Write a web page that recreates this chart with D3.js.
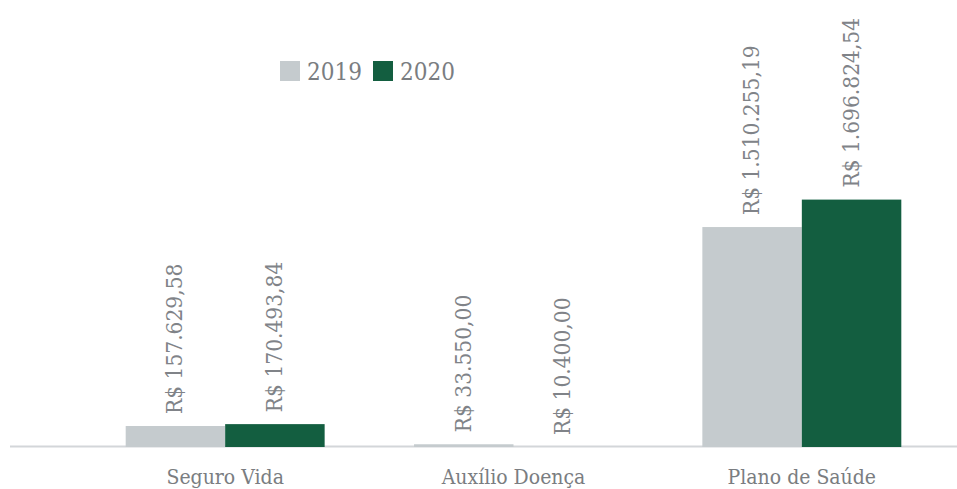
<!DOCTYPE html>
<html><head><meta charset="utf-8">
<script src="https://cdn.jsdelivr.net/npm/d3@7"></script>
<style>
body{margin:0;background:#fff;}
text{font-family:"DejaVu Serif Condensed","DejaVu Serif",serif;font-stretch:condensed;}
</style></head>
<body><svg id="c" width="957" height="489"></svg>
<script>
const categories = ["Seguro Vida","Auxílio Doença","Plano de Saúde"];
const seriesNames = ["2019","2020"];
const values2019 = [157629.58, 33550.00, 1510255.19];
const values2020 = [170493.84, 10400.00, 1696824.54];
const labels2019 = ["R$ 157.629,58","R$ 33.550,00","R$ 1.510.255,19"];
const labels2020 = ["R$ 170.493,84","R$ 10.400,00","R$ 1.696.824,54"];
const colors = ["#c5cbce","#135e40"];

const svg = d3.select("#c");
const W = 957, H = 489;
const m = {left:81, right:11, top:20, bottom:42};
const base = H - m.bottom;

const x0 = d3.scaleBand().domain(categories).range([m.left, W - m.right]).paddingInner(0.31).paddingOuter(0.155);
const x1 = d3.scaleBand().domain(seriesNames).range([0, x0.bandwidth()]);
const y = d3.scaleLinear().domain([15000, 2000000]).range([base, base - 292]).clamp(true);

const data = categories.map((c,i)=>({cat:c, vals:[
  {s:"2019", v:values2019[i], l:labels2019[i], c:colors[0]},
  {s:"2020", v:values2020[i], l:labels2020[i], c:colors[1]}]}));

// axis line
svg.append("line").attr("x1",10).attr("x2",W).attr("y1",base-0.5).attr("y2",base-0.5)
  .attr("stroke","#d3d6d9").attr("stroke-width",2);

const g = svg.selectAll("g.cat").data(data).join("g").attr("class","cat")
  .attr("transform",d=>`translate(${x0(d.cat)},0)`);

g.selectAll("rect").data(d=>d.vals).join("rect")
  .attr("x",d=>x1(d.s)).attr("width",x1.bandwidth())
  .attr("y",d=>y(d.v)).attr("height",d=>base - y(d.v))
  .attr("fill",d=>d.c);

g.selectAll("text.val").data(d=>d.vals).join("text").attr("class","val")
  .attr("transform",d=>`translate(${x1(d.s)+x1.bandwidth()/2+7},${y(d.v)-12}) rotate(-90)`)
  .attr("text-anchor","start").attr("font-size",22.5).attr("fill","#808388")
  .text(d=>d.l);

// category axis labels
svg.selectAll("text.cat").data(categories).join("text").attr("class","cat")
  .attr("x",d=>x0(d)+x0.bandwidth()/2).attr("y",484)
  .attr("text-anchor","middle").attr("font-size",21).attr("fill","#7a7d81")
  .text(d=>d);

// legend
const lg = svg.append("g");
const lx = [280, 373];
seriesNames.forEach((s,i)=>{
  lg.append("rect").attr("x",lx[i]).attr("y",61).attr("width",20).attr("height",20).attr("fill",colors[i]);
  lg.append("text").attr("x",lx[i]+27).attr("y",80).attr("font-size",24).attr("fill","#7a7d81").text(s);
});
</script></body></html>
